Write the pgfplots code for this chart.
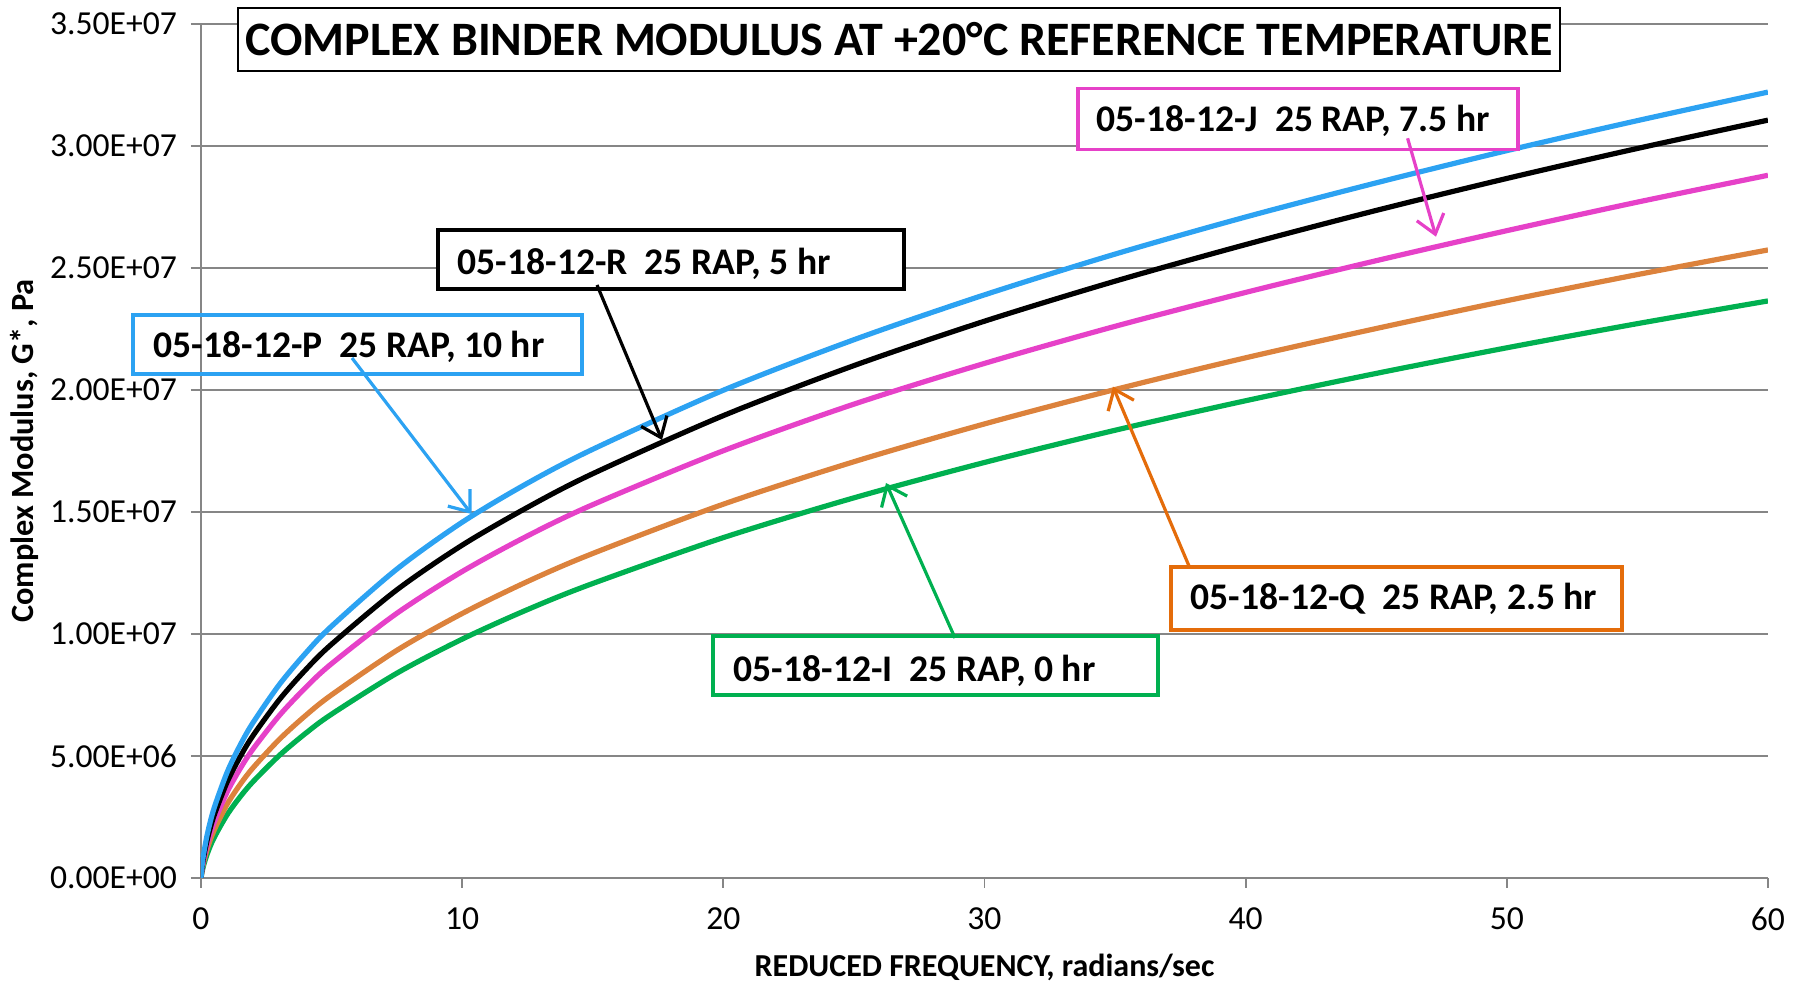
\documentclass[border=0pt]{standalone}
\usepackage{fontspec}
\setmainfont{Carlito}
\usepackage{pgfplots}
\usepackage{pgfplotstable}
\pgfplotsset{compat=1.18}
\usetikzlibrary{arrows.meta}
\definecolor{cBlue}{RGB}{44,162,242}
\definecolor{cMag}{RGB}{230,65,200}
\definecolor{cOrg}{RGB}{220,130,60}
\definecolor{cOrgA}{RGB}{228,108,10}
\definecolor{cGrn}{RGB}{0,176,80}
\definecolor{gridc}{RGB}{134,134,134}

% columns: f, P (10 hr), R (5 hr), J (7.5 hr), Q (2.5 hr), I (0 hr)
\pgfplotstableread{
f     P        R        J        Q        I
0     0        0        0        0        0
0.05  5.88e5   5.02e5   4.34e5   3.75e5   3.01e5
0.1   9.75e5   8.44e5   7.34e5   6.34e5   5.16e5
0.25  1.834e6  1.618e6  1.420e6  1.226e6  1.017e6
0.5   2.858e6  2.557e6  2.266e6  1.951e6  1.646e6
1     4.332e6  3.929e6  3.519e6  3.019e6  2.590e6
1.5   5.447e6  4.970e6  4.481e6  3.835e6  3.328e6
2     6.381e6  5.849e6  5.296e6  4.525e6  3.957e6
3     7.927e6  7.308e6  6.659e6  5.681e6  5.023e6
4     9.205e6  8.526e6  7.796e6  6.654e6  5.924e6
5     1.032e7  9.582e6  8.784e6  7.506e6  6.714e6
7.5   1.266e7  1.181e7  1.085e7  9.331e6  8.393e6
10    1.458e7  1.364e7  1.256e7  1.084e7  9.789e6
12.5  1.618e7  1.519e7  1.402e7  1.215e7  1.100e7
15    1.757e7  1.657e7  1.530e7  1.330e7  1.207e7
20    1.999e7  1.895e7  1.751e7  1.532e7  1.395e7
25    2.206e7  2.100e7  1.942e7  1.706e7  1.558e7
30    2.390e7  2.282e7  2.109e7  1.861e7  1.703e7
35    2.557e7  2.446e7  2.261e7  2.002e7  1.835e7
40    2.709e7  2.596e7  2.400e7  2.132e7  1.956e7
45    2.849e7  2.736e7  2.530e7  2.252e7  2.068e7
50    2.981e7  2.867e7  2.653e7  2.366e7  2.173e7
55    3.104e7  2.990e7  2.770e7  2.473e7  2.272e7
60    3.221e7  3.106e7  2.880e7  2.574e7  2.365e7
}\tblG

\begin{document}
\begin{tikzpicture}
\begin{axis}[
  at={(0,0)}, anchor=south west,
  scale only axis, width=391.75pt, height=213.5pt,
  xmin=0, xmax=60, ymin=0, ymax=3.5e7,
  xtick={0,10,20,30,40,50,60},
  ytick={0,5e6,1e7,1.5e7,2e7,2.5e7,3e7,3.5e7},
  yticklabels={0.00E+00,5.00E+06,1.00E+07,1.50E+07,2.00E+07,2.50E+07,3.00E+07,3.50E+07},
  scaled y ticks=false,
  axis x line*=bottom, axis y line*=left,
  axis line style={gridc, line width=0.45pt, -},
  ymajorgrids, grid style={gridc, line width=0.45pt},
  tick align=outside, major tick length=2.5pt,
  tick style={gridc, line width=0.45pt},
  tick label style={font=\fontsize{8.4}{10}\selectfont, black},
  xticklabel style={yshift=-1.3pt},
  /pgf/number format/assume math mode=true,
  xlabel={REDUCED FREQUENCY, radians/sec},
  ylabel={Complex Modulus, G*, Pa},
  xlabel style={font=\bfseries\fontsize{8}{9.6}\selectfont, at={(axis description cs:0.5,-0.1156)}, anchor=base},
  ylabel style={font=\bfseries\fontsize{8.1}{9.7}\selectfont, at={(axis description cs:-0.1125,0.5)}, anchor=center, rotate=0},
]
\addplot[cGrn, line width=1.3pt, smooth] table[x=f,y=I] {\tblG};
\addplot[cOrg, line width=1.3pt, smooth] table[x=f,y=Q] {\tblG};
\addplot[cMag, line width=1.3pt, smooth] table[x=f,y=J] {\tblG};
\addplot[black, line width=1.3pt, smooth] table[x=f,y=R] {\tblG};
\addplot[cBlue, line width=1.3pt, smooth] table[x=f,y=P] {\tblG};
\end{axis}
\begin{scope}[x=0.25pt, y=-0.25pt, shift={(-50.25pt,219.5pt)},
  lbl/.style={anchor=base west, font=\bfseries\fontsize{9.4}{11}\selectfont, inner sep=0pt},
  arr/.style={line width=0.8pt, -{Straight Barb[length=4.5pt,width=7pt]}}]
  % title
  \draw[black, line width=0.6pt, fill=white] (238,8) rectangle (1560,71);
  \node[anchor=base, inner sep=0pt, font=\bfseries\fontsize{12}{14}\selectfont] at (899,56) {COMPLEX BINDER MODULUS AT +20°C REFERENCE TEMPERATURE};
  % P
  \draw[cBlue, line width=0.8pt] (133,315) rectangle (582,374);
  \node[lbl] at (153,358) {05-18-12-P\ \ 25 RAP, 10 hr};
  \draw[cBlue, arr] (352,358) -- (471.5,514);
  % R
  \draw[black, line width=0.8pt, fill=white] (438,230) rectangle (904,289);
  \node[lbl] at (457,275) {05-18-12-R\ \ 25 RAP, 5 hr};
  \draw[black, arr] (597,285) -- (662,440);
  % J
  \draw[cMag, line width=0.8pt, fill=white] (1078,88.5) rectangle (1518,149.5);
  \node[lbl] at (1096,131.7) {05-18-12-J\ \ 25 RAP, 7.5 hr};
  \draw[cMag, arr] (1407.6,138.3) -- (1436,236.7);
  % Q
  \draw[cOrgA, line width=0.8pt, fill=white] (1171,567) rectangle (1622,630);
  \node[lbl] at (1190,610) {05-18-12-Q\ \ 25 RAP, 2.5 hr};
  \draw[cOrgA, arr] (1189,566) -- (1113,386.7);
  % I
  \draw[cGrn, line width=0.8pt, fill=white] (713,636) rectangle (1158,695);
  \node[lbl] at (733,681.7) {05-18-12-I\ \ 25 RAP, 0 hr};
  \draw[cGrn, arr] (955,638) -- (886,483);
\end{scope}
\pgfresetboundingbox
\path (-50.25pt,-26.5pt) rectangle (400.5pt,219.5pt);
\end{tikzpicture}
\end{document}
